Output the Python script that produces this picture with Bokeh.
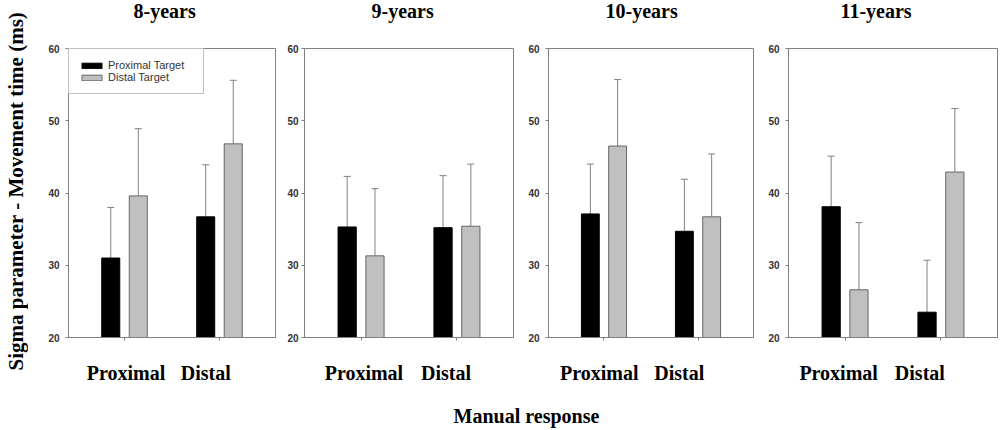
import math
from bokeh.plotting import figure
from bokeh.models import (Range1d, FixedTicker, LinearAxis, Whisker, ColumnDataSource,
                          Legend, LegendItem, TeeHead)
from bokeh.layouts import row, column
from bokeh.embed import file_html
from bokeh.resources import INLINE
from bokeh.core.properties import value

# ---------------- data ----------------
groups = ["8-years", "9-years", "10-years", "11-years"]
responses = ["Proximal", "Distal"]
response_pos = [1, 2]
series_names = ["Proximal Target", "Distal Target"]
prox_mean = [[31.0, 36.7], [35.3, 35.2], [37.1, 34.7], [38.1, 23.5]]
prox_sd = [[7.0, 7.2], [7.0, 7.2], [6.9, 7.2], [7.0, 7.2]]
dist_mean = [[39.6, 46.8], [31.3, 35.4], [46.5, 36.7], [26.6, 42.9]]
dist_sd = [[9.3, 8.8], [9.3, 8.6], [9.2, 8.7], [9.3, 8.8]]
y_ticks = [20, 30, 40, 50, 60]
y_label = "Sigma parameter - Movement time  (ms)"
x_label = "Manual response"

# ---------------- layout / style ----------------
LEFT_W = 28
border_left = [40, 27, 33, 33]
frame_w = [207, 209, 205, 209]
tick_standoff = [6, 3, 6, 6]
title_offsets = [65, 67, 57, 52]
label_pos = [[1.016, 1.855], [1.03, 1.886], [0.95, 1.80], [0.933, 1.78]]
TOP_H = 27
BTOP, FRAME_H, BBOT = 21, 289, 55
BOTTOM_H = 38
TOTAL_H = TOP_H + BTOP + FRAME_H + BBOT + BOTTOM_H
GRAY = "#808080"
serif = "Liberation Serif"
sans = "Liberation Sans"
OFF, BW = 0.145, 0.19

fig_w = [bl + fw + 2 for bl, fw in zip(border_left, frame_w)]
total_w = sum(fig_w)
frame_left = [sum(fig_w[:i]) + border_left[i] for i in range(len(groups))]


def strip(width, height):
    s = figure(width=width, height=height, x_range=Range1d(0, width),
               y_range=Range1d(0, height), output_backend="svg", toolbar_location=None,
               x_axis_type=None, y_axis_type=None, min_border=0, min_border_left=0,
               min_border_right=0, min_border_top=0, min_border_bottom=0)
    s.outline_line_color = None
    s.xgrid.visible = False
    s.ygrid.visible = False
    return s


# common y-axis title
left = strip(LEFT_W, TOTAL_H)
left.text(x=[15], y=[TOTAL_H - 188], text=[y_label], angle=math.pi / 2,
          text_font=value(serif), text_font_size="21px", text_font_style="bold",
          text_color="black", text_align="center", text_baseline="middle")

# panel titles
top = strip(total_w, TOP_H)
top.text(x=[fl + o for fl, o in zip(frame_left, title_offsets)], y=[6] * len(groups),
         text=groups, text_font=value(serif), text_font_size="20px", text_font_style="bold",
         text_color="black", text_align="left", text_baseline="bottom")

figs = []
for i, g in enumerate(groups):
    p = figure(width=fig_w[i], height=BTOP + FRAME_H + BBOT,
               x_range=Range1d(0.41, 2.59), y_range=Range1d(20, 60),
               output_backend="svg", toolbar_location=None,
               x_axis_type=None, y_axis_type=None,
               min_border_left=border_left[i], min_border_right=2,
               min_border_top=BTOP, min_border_bottom=BBOT)
    p.outline_line_color = GRAY
    p.outline_line_width = 1
    p.xgrid.visible = False
    p.ygrid.visible = False
    p.background_fill_color = "white"
    p.border_fill_color = "white"

    # y axis
    ya = LinearAxis(ticker=FixedTicker(ticks=y_ticks))
    ya.axis_line_color = GRAY
    ya.major_tick_line_color = GRAY
    ya.major_tick_out = 3
    ya.major_tick_in = 0
    ya.minor_tick_line_color = None
    ya.major_label_text_font = sans
    ya.major_label_text_font_size = "10px"
    ya.major_label_text_font_style = "bold"
    ya.major_label_text_color = "#333333"
    ya.major_label_standoff = tick_standoff[i]
    p.add_layout(ya, "left")

    # x axis: labels as major ticks (hidden marks), category centres as minor tick marks
    xb = LinearAxis(ticker=FixedTicker(ticks=label_pos[i], minor_ticks=response_pos),
                    major_label_overrides={label_pos[i][k]: responses[k] for k in range(2)})
    xb.axis_line_color = GRAY
    xb.major_tick_line_color = None
    xb.major_tick_out = 0
    xb.major_tick_in = 0
    xb.minor_tick_line_color = GRAY
    xb.minor_tick_out = 3
    xb.minor_tick_in = 0
    xb.major_label_text_font = serif
    xb.major_label_text_font_size = "20px"
    xb.major_label_text_font_style = "bold"
    xb.major_label_text_color = "black"
    xb.major_label_standoff = 21
    p.add_layout(xb, "below")

    src_p = ColumnDataSource(dict(
        x=[v - OFF for v in response_pos], top=prox_mean[i],
        upper=[m + s for m, s in zip(prox_mean[i], prox_sd[i])]))
    src_d = ColumnDataSource(dict(
        x=[v + OFF for v in response_pos], top=dist_mean[i],
        upper=[m + s for m, s in zip(dist_mean[i], dist_sd[i])]))

    rp = p.vbar(x="x", top="top", bottom=20, width=BW, source=src_p,
                fill_color="black", line_color="black", line_width=1)
    rd = p.vbar(x="x", top="top", bottom=20, width=BW, source=src_d,
                fill_color="#c0c0c0", line_color="#666666", line_width=1)

    for src in (src_p, src_d):
        w = Whisker(source=src, base="x", lower="top", upper="upper", dimension="height",
                    line_color=GRAY, line_width=1,
                    upper_head=TeeHead(size=7, line_color=GRAY, line_width=1),
                    lower_head=None)
        p.add_layout(w)

    if i == 0:
        leg = Legend(items=[LegendItem(label=series_names[0], renderers=[rp]),
                            LegendItem(label=series_names[1], renderers=[rd])],
                     location="top_left", margin=0, padding=10, spacing=0,
                     border_line_color=GRAY, border_line_width=1,
                     background_fill_color="white", background_fill_alpha=1,
                     label_text_font=sans, label_text_font_size="11px",
                     label_text_color="#333333", glyph_width=25, glyph_height=7,
                     label_height=12, label_width=85, label_standoff=4)
        p.add_layout(leg, "center")
    figs.append(p)

# common x-axis title
bottom = strip(total_w, BOTTOM_H)
bottom.text(x=[526 - LEFT_W], y=[4], text=[x_label], text_font=value(serif),
            text_font_size="20px", text_font_style="bold", text_color="black",
            text_align="center", text_baseline="bottom")

layout = row(left, column(top, row(*figs), bottom))
open("out.html", "w").write(file_html(layout, INLINE))
